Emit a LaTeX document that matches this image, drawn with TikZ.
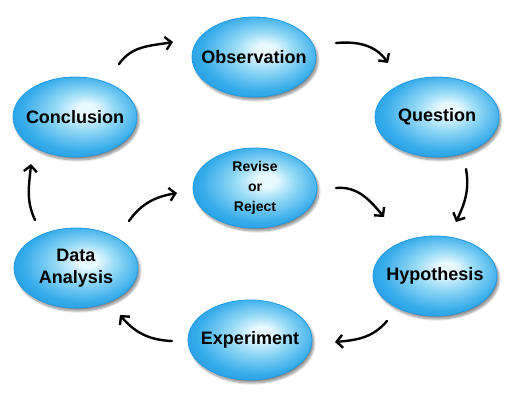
\documentclass[tikz,border=0pt]{standalone}
\usepackage{fontspec}
\setmainfont{Liberation Sans}
\usetikzlibrary{shapes.geometric,arrows.meta,shadows.blur,calc}
\definecolor{bcA}{RGB}{232,249,255}
\definecolor{bcB}{RGB}{150,218,246}
\definecolor{bcC}{RGB}{55,172,235}
\definecolor{bcD}{RGB}{15,140,215}
\definecolor{bcF}{RGB}{5,115,200}
\definecolor{bcE}{RGB}{30,155,230}
\pgfdeclareradialshading{bluebulb}{\pgfpoint{5bp}{5bp}}{color(0bp)=(bcA); color(4bp)=(bcA); color(12bp)=(bcB); color(24bp)=(bcC); color(37bp)=(bcD); color(47bp)=(bcF); color(50bp)=(bcE)}
\begin{document}
\begin{tikzpicture}[x=1pt,y=1pt,
  bulbshape/.style={ellipse, minimum width=124pt, minimum height=80pt, inner sep=0pt,
    shading=bluebulb, draw=bcE, line width=0.8pt,
    blur shadow={shadow xshift=2pt, shadow yshift=-3pt, shadow blur steps=10, shadow opacity=45}},
  bulb/.style={bulbshape, label={[txt]center:#1}},
  smallbulb/.style={bulbshape, label={[smalltxt]center:#1}},
  txt/.style={font=\fontsize{18}{22}\selectfont\bfseries, align=center, text=black, inner sep=0pt},
  smalltxt/.style={font=\fontsize{14}{20}\selectfont\bfseries, align=center, text=black, inner sep=0pt},
  arr/.style={-{Straight Barb[length=6pt,width=13pt]}, line width=2.4pt, line cap=round, black}]
\useasboundingbox (0,0) rectangle (512,400);
\node[bulb={Observation}] (obs) at (254,343) {};
\node[bulb={Question}] (ques) at (437,283) {};
\node[bulb={Hypothesis}] (hyp) at (435,124) {};
\node[bulb={Experiment}] (exp) at (250,60) {};
\node[bulb={Data\\Analysis}] (data) at (76,132) {};
\node[bulb={Conclusion}] (conc) at (75,283) {};
\node[smallbulb={Revise\\or\\Reject}] (rev) at (255,212) {};
\draw[arr] ($(conc)+(44,53)$) to[out=55,in=190] ($(obs)+(-81,15)$);
\draw[arr] ($(obs)+(82,14)$) to[out=5,in=125] ($(ques)+(-49,54)$);
\draw[arr] ($(ques)+(29,-52)$) to[out=-80,in=65] ($(hyp)+(21,54)$);
\draw[arr] ($(hyp)+(-48,-45)$) to[out=-130,in=5] ($(exp)+(85,-2)$);
\draw[arr] ($(exp)+(-78,-1)$) to[out=178,in=-50] ($(data)+(44,-47)$);
\draw[arr] ($(data)+(-41,48)$) to[out=115,in=-95] ($(conc)+(-44,-47)$);
\draw[arr] ($(data)+(53,47)$) to[out=55,in=190] ($(rev)+(-78,-5)$);
\draw[arr] ($(rev)+(81,0)$) to[out=5,in=130] ($(hyp)+(-51,59)$);
\end{tikzpicture}
\end{document}
